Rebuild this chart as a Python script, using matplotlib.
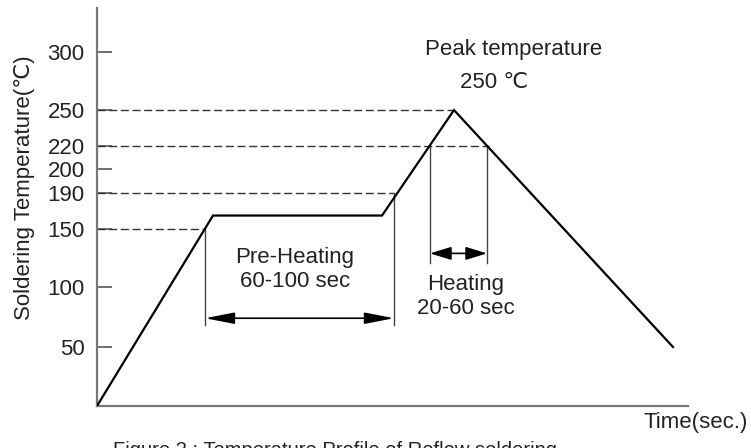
import numpy as np
import matplotlib
matplotlib.use("Agg")
import matplotlib.pyplot as plt
from matplotlib.ticker import NullLocator

plt.rcParams['font.family'] = ['Liberation Sans', 'DejaVu Sans']
plt.rcParams['lines.scale_dashes'] = False

# reflow profile (time in arbitrary sec units, temperature in C)
time = [0, 116, 285, 357, 576]
temp = [0, 165, 165, 250, 50]

yticks = [50, 100, 150, 190, 200, 220, 250, 300]

# dashed reference levels: (temperature, time where it meets the curve)
levels = [150, 190, 220, 250]
level_end = [108, 297, 392, 357]

# zone limits
pre_start, pre_end = 108, 297
heat_start, heat_end = 333, 390

# the drawing is schematic: the temperature axis is not evenly spaced
knot_val = [-100, 0, 50, 100, 150, 190, 200, 220, 250, 300, 500]
knot_pos = [-118, 0, 59, 119, 177, 213, 237, 260, 296, 354, 586]


def fwd(v):
    return np.interp(v, knot_val, knot_pos)


def inv(p):
    return np.interp(p, knot_pos, knot_val)


ink = '#222222'
axis_col = '#777777'
fs = 16

fig = plt.figure(figsize=(7.51, 4.48), dpi=100)
ax = fig.add_axes([97 / 751, 42 / 448, 591 / 751, 398 / 448])
ax.set_yscale('function', functions=(fwd, inv))
ax.set_xlim(0, 591)
ax.set_ylim(0, 338)

ax.plot(time, temp, color='black', lw=1.6, solid_joinstyle='miter', zorder=3)

# dashed temperature levels
for t, xe in zip(levels, level_end):
    ax.plot([0, xe], [t, t], color='#333333', lw=1.0, dashes=(5.8, 2.6))

# vertical zone markers
for x, top, bottom in [(pre_start, 150, 68), (pre_end, 190, 68),
                       (heat_start, 220, 121), (heat_end, 220, 121)]:
    ax.plot([x, x], [bottom, top], color='#444444', lw=1.0)

ax.annotate('', xy=(pre_end, 74), xytext=(pre_start, 74),
            arrowprops=dict(arrowstyle='<|-|>,head_length=1.8,head_width=0.35',
                            mutation_scale=10, color='black', lw=1.2,
                            shrinkA=0, shrinkB=0))
ax.annotate('', xy=(heat_end, 129), xytext=(heat_start, 129),
            arrowprops=dict(arrowstyle='<|-|>,head_length=1.3,head_width=0.4',
                            mutation_scale=10, color='black', lw=1.2,
                            shrinkA=0, shrinkB=0))

ax.text(198, 115, 'Pre-Heating\n60-100 sec', ha='center', va='center',
        fontsize=fs, color=ink, linespacing=1.2)
ax.text(369, 92, 'Heating\n20-60 sec', ha='center', va='center',
        fontsize=fs, color=ink, linespacing=1.2)
ax.text(417, 302, 'Peak temperature', ha='center', va='center',
        fontsize=fs, color=ink)
ax.text(397, 274, '250 ℃', ha='center', va='center',
        fontsize=fs, color=ink)

# axes styling
for side in ['top', 'right']:
    ax.spines[side].set_visible(False)
for side in ['left', 'bottom']:
    ax.spines[side].set_color(axis_col)
    ax.spines[side].set_linewidth(1.6)

ax.set_yticks(yticks)
ax.set_yticklabels([str(v) for v in yticks])
ax.yaxis.set_minor_locator(NullLocator())
ax.set_xticks([])
ax.tick_params(axis='y', direction='in', length=11, width=1.2,
               color='#555555', labelsize=fs, labelcolor=ink, pad=9)

ax.set_ylabel('Soldering Temperature(℃)', fontsize=fs, color=ink)
ax.yaxis.set_label_coords(-0.105, 0.548)

fig.text(643 / 751, 1 - 422 / 448, 'Time(sec.)', ha='left', va='center',
         fontsize=fs, color=ink)
# caption, mostly cut off by the lower edge as in the source image
fig.text(113 / 751, 1 - 441 / 448,
         'Figure 2 : Temperature Profile of Reflow soldering',
         ha='left', va='top', fontsize=14.5, color=ink)

fig.savefig('out.png', dpi=100)
